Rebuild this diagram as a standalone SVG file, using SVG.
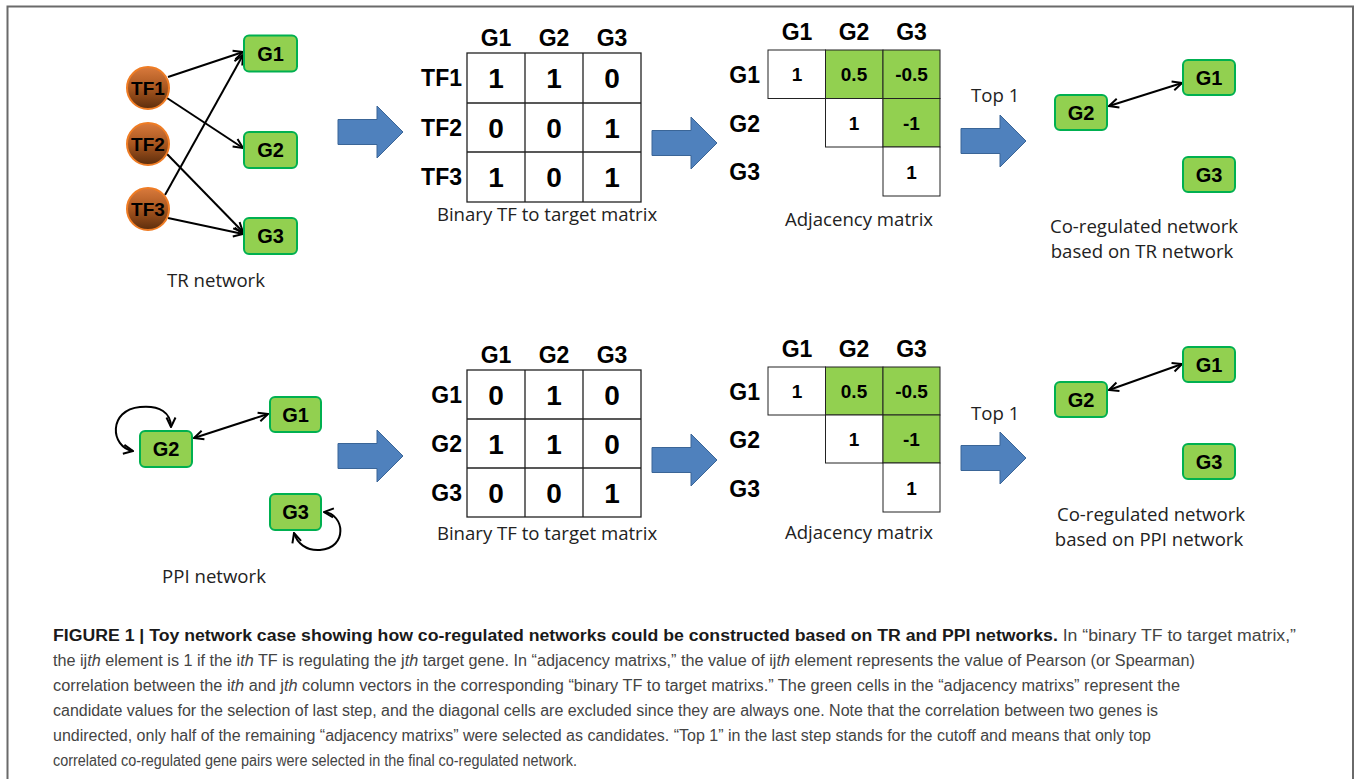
<svg xmlns="http://www.w3.org/2000/svg" width="1360" height="779" viewBox="0 0 1360 779">
<defs>
<style>
.lbl{font-family:"Open Sans","Liberation Sans",sans-serif;font-size:18.6px;fill:#222}
.b{font-family:"Liberation Sans",Arial,sans-serif;font-weight:bold;fill:#000}
.hd{font-size:23px}
.val{font-size:28px;text-anchor:middle}
.av{font-size:19px;text-anchor:middle}
.rl{text-anchor:end}
.ctr{text-anchor:middle}
.nd rect{fill:#92D050;stroke:#00B050;stroke-width:2}
.nd text{font-family:"Liberation Sans",Arial,sans-serif;font-weight:bold;font-size:20px;text-anchor:middle;fill:#000}
.tf circle{fill:url(#tfg);stroke:#EF7C24;stroke-width:2}
.tf text{font-family:"Liberation Sans",Arial,sans-serif;font-weight:bold;font-size:19px;text-anchor:middle;fill:#000}
.edge{stroke:#000;stroke-width:2;fill:none}
.blue{fill:#4F81BD;stroke:#3A6597;stroke-width:1}
.grid{fill:#fff;stroke:#222;stroke-width:1.3}
.gc{fill:#92D050;stroke:#222;stroke-width:1}
.wc{fill:#fff;stroke:#222;stroke-width:1}
.cap{font-family:"Liberation Sans",Arial,sans-serif;font-size:16px;fill:#444}
</style>
<linearGradient id="tfg" x1="0" y1="0" x2="0" y2="1">
<stop offset="0" stop-color="#D97A3C"/>
<stop offset="0.5" stop-color="#A8561F"/>
<stop offset="1" stop-color="#5C2D0C"/>
</linearGradient>
<marker id="ah" viewBox="0 0 12 12" refX="11" refY="6" markerWidth="12" markerHeight="12" orient="auto-start-reverse" markerUnits="userSpaceOnUse">
<path d="M1.5,1.5 L11,6 L1.5,10.5" fill="none" stroke="#000" stroke-width="2"/>
</marker>
<path id="barrow" d="M0,-12.5 H39 V-26 L65,0 L39,26 V12.5 H0 Z"/>
</defs>
<rect x="0" y="0" width="1360" height="779" fill="#fff"/>
<path d="M7.5,790 V6.5 H1353 V790" fill="none" stroke="#6a6a6a" stroke-width="2"/>

<!-- connectors -->
<g id="connectors">
<line class="edge" x1="168" y1="77" x2="243" y2="52" marker-end="url(#ah)"/>
<line class="edge" x1="167" y1="98" x2="243" y2="148" marker-end="url(#ah)"/>
<line class="edge" x1="167" y1="154" x2="243" y2="232" marker-end="url(#ah)"/>
<line class="edge" x1="165" y1="195" x2="243" y2="55" marker-end="url(#ah)"/>
<line class="edge" x1="168" y1="218" x2="243" y2="234" marker-end="url(#ah)"/>
<line class="edge" x1="1109" y1="106" x2="1182" y2="83" stroke-width="1.8" marker-start="url(#ah)" marker-end="url(#ah)"/>
<line class="edge" x1="1109" y1="390" x2="1182" y2="364" stroke-width="1.8" marker-start="url(#ah)" marker-end="url(#ah)"/>
<line class="edge" x1="194" y1="438" x2="268" y2="414" marker-start="url(#ah)" marker-end="url(#ah)"/>
<path class="edge" d="M133,451 C110,447 108,410 140,407 C160,405 171,413 171,427" marker-start="url(#ah)" marker-end="url(#ah)"/>
<path class="edge" d="M324,512 C345,514 348,548 320,550 C306,551 297,543 294,533" marker-start="url(#ah)" marker-end="url(#ah)"/>
<use href="#barrow" class="blue" transform="translate(338,132)"/>
<use href="#barrow" class="blue" transform="translate(652,143)"/>
<use href="#barrow" class="blue" transform="translate(961,141)"/>
<use href="#barrow" class="blue" transform="translate(338,456)"/>
<use href="#barrow" class="blue" transform="translate(652,460)"/>
<use href="#barrow" class="blue" transform="translate(961,458)"/>
</g>

<!-- TR network -->
<g id="tf1" class="tf"><circle cx="148" cy="88" r="21"/><text x="148" y="95">TF1</text></g>
<g id="tf2" class="tf"><circle cx="148" cy="144" r="21"/><text x="148" y="151">TF2</text></g>
<g id="tf3" class="tf"><circle cx="148" cy="209" r="21"/><text x="148" y="216">TF3</text></g>
<g id="tr-g1" class="nd"><rect x="244" y="35.5" width="53" height="36" rx="5"/><text x="270.5" y="60.5">G1</text></g>
<g id="tr-g2" class="nd"><rect x="244" y="132" width="53" height="36" rx="5"/><text x="270.5" y="157">G2</text></g>
<g id="tr-g3" class="nd"><rect x="244" y="218" width="53" height="36" rx="5"/><text x="270.5" y="243">G3</text></g>
<text class="lbl ctr" x="216" y="287">TR network</text>

<!-- Binary matrix top -->
<g id="bin-top">
<rect class="grid" x="467" y="53" width="174" height="149"/>
<path d="M525,53 V202 M583,53 V202 M467,103 H641 M467,152 H641" stroke="#222" stroke-width="1.3"/>
<text class="b hd ctr" x="496" y="46">G1</text><text class="b hd ctr" x="554" y="46">G2</text><text class="b hd ctr" x="612" y="46">G3</text>
<text class="b hd rl" x="462" y="86">TF1</text><text class="b hd rl" x="462" y="136">TF2</text><text class="b hd rl" x="462" y="185">TF3</text>
<text class="b val" x="496" y="88">1</text><text class="b val" x="554" y="88">1</text><text class="b val" x="612" y="88">0</text>
<text class="b val" x="496" y="138">0</text><text class="b val" x="554" y="138">0</text><text class="b val" x="612" y="138">1</text>
<text class="b val" x="496" y="187">1</text><text class="b val" x="554" y="187">0</text><text class="b val" x="612" y="187">1</text>
<text class="lbl ctr" x="547" y="221">Binary TF to target matrix</text>
</g>

<!-- Adjacency top -->
<g id="adj-top">
<rect class="wc" x="768" y="50" width="57.5" height="48.5"/>
<rect class="gc" x="825.5" y="50" width="57.5" height="48.5"/>
<rect class="gc" x="883" y="50" width="57" height="48.5"/>
<rect class="wc" x="825.5" y="98.5" width="57.5" height="48.5"/>
<rect class="gc" x="883" y="98.5" width="57" height="48.5"/>
<rect class="wc" x="883" y="147" width="57" height="49"/>
<text class="b hd ctr" x="797" y="40">G1</text><text class="b hd ctr" x="854" y="40">G2</text><text class="b hd ctr" x="911.5" y="40">G3</text>
<text class="b hd rl" x="760" y="83">G1</text><text class="b hd rl" x="760" y="132">G2</text><text class="b hd rl" x="760" y="180">G3</text>
<text class="b av" x="797" y="81">1</text><text class="b av" x="854" y="81">0.5</text><text class="b av" x="911.5" y="81">-0.5</text>
<text class="b av" x="854" y="130">1</text><text class="b av" x="911.5" y="130">-1</text>
<text class="b av" x="911.5" y="178.5">1</text>
<text class="lbl ctr" x="859" y="226">Adjacency matrix</text>
</g>
<text class="lbl" x="971" y="102">Top 1</text>

<!-- Co-regulated top -->
<g id="co-top-g1" class="nd"><rect x="1183" y="60" width="52" height="35" rx="5"/><text x="1209" y="84.5">G1</text></g>
<g id="co-top-g2" class="nd"><rect x="1055" y="95" width="52" height="35" rx="5"/><text x="1081" y="119.5">G2</text></g>
<g id="co-top-g3" class="nd"><rect x="1183" y="157" width="52" height="35" rx="5"/><text x="1209" y="181.5">G3</text></g>
<text class="lbl ctr" x="1144" y="233">Co-regulated network</text>
<text class="lbl ctr" x="1142" y="258">based on TR network</text>

<!-- PPI network -->
<g id="ppi-g1" class="nd"><rect x="270" y="397" width="51" height="35" rx="5"/><text x="295.5" y="421.5">G1</text></g>
<g id="ppi-g2" class="nd"><rect x="140" y="431" width="52" height="36" rx="5"/><text x="166" y="456">G2</text></g>
<g id="ppi-g3" class="nd"><rect x="270" y="494" width="51" height="36" rx="5"/><text x="295.5" y="519">G3</text></g>
<text class="lbl ctr" x="214" y="583">PPI network</text>

<!-- Binary matrix bottom -->
<g id="bin-bot">
<rect class="grid" x="467" y="370" width="174" height="147"/>
<path d="M525,370 V517 M583,370 V517 M467,419 H641 M467,468 H641" stroke="#222" stroke-width="1.3"/>
<text class="b hd ctr" x="496" y="363">G1</text><text class="b hd ctr" x="554" y="363">G2</text><text class="b hd ctr" x="612" y="363">G3</text>
<text class="b hd rl" x="462" y="403">G1</text><text class="b hd rl" x="462" y="452">G2</text><text class="b hd rl" x="462" y="501">G3</text>
<text class="b val" x="496" y="404.5">0</text><text class="b val" x="554" y="404.5">1</text><text class="b val" x="612" y="404.5">0</text>
<text class="b val" x="496" y="453.5">1</text><text class="b val" x="554" y="453.5">1</text><text class="b val" x="612" y="453.5">0</text>
<text class="b val" x="496" y="502.5">0</text><text class="b val" x="554" y="502.5">0</text><text class="b val" x="612" y="502.5">1</text>
<text class="lbl ctr" x="547" y="540">Binary TF to target matrix</text>
</g>

<!-- Adjacency bottom -->
<g id="adj-bot">
<rect class="wc" x="768" y="367" width="57.5" height="48"/>
<rect class="gc" x="825.5" y="367" width="57.5" height="48"/>
<rect class="gc" x="883" y="367" width="57" height="48"/>
<rect class="wc" x="825.5" y="415" width="57.5" height="48"/>
<rect class="gc" x="883" y="415" width="57" height="48"/>
<rect class="wc" x="883" y="463" width="57" height="49"/>
<text class="b hd ctr" x="797" y="357">G1</text><text class="b hd ctr" x="854" y="357">G2</text><text class="b hd ctr" x="911.5" y="357">G3</text>
<text class="b hd rl" x="760" y="400">G1</text><text class="b hd rl" x="760" y="448">G2</text><text class="b hd rl" x="760" y="496.5">G3</text>
<text class="b av" x="797" y="398">1</text><text class="b av" x="854" y="398">0.5</text><text class="b av" x="911.5" y="398">-0.5</text>
<text class="b av" x="854" y="446">1</text><text class="b av" x="911.5" y="446">-1</text>
<text class="b av" x="911.5" y="494.5">1</text>
<text class="lbl ctr" x="859" y="539">Adjacency matrix</text>
</g>
<text class="lbl" x="971" y="420">Top 1</text>

<!-- Co-regulated bottom -->
<g id="co-bot-g1" class="nd"><rect x="1183" y="347" width="52" height="35" rx="5"/><text x="1209" y="371.5">G1</text></g>
<g id="co-bot-g2" class="nd"><rect x="1055" y="382" width="52" height="35" rx="5"/><text x="1081" y="406.5">G2</text></g>
<g id="co-bot-g3" class="nd"><rect x="1183" y="444" width="52" height="35" rx="5"/><text x="1209" y="468.5">G3</text></g>
<text class="lbl ctr" x="1151" y="521">Co-regulated network</text>
<text class="lbl ctr" x="1149" y="546">based on PPI network</text>

<!-- Figure caption -->
<g id="caption" class="cap">
<text x="53" y="641" textLength="1243" lengthAdjust="spacingAndGlyphs"><tspan font-weight="bold" fill="#1a1a1a">FIGURE 1 | Toy network case showing how co-regulated networks could be constructed based on TR and PPI networks.</tspan> In “binary TF to target matrix,”</text>
<text x="53" y="666" textLength="1142" lengthAdjust="spacingAndGlyphs">the ij<tspan font-style="italic">th</tspan> element is 1 if the i<tspan font-style="italic">th</tspan> TF is regulating the j<tspan font-style="italic">th</tspan> target gene. In “adjacency matrixs,” the value of ij<tspan font-style="italic">th</tspan> element represents the value of Pearson (or Spearman)</text>
<text x="53" y="691" textLength="1127" lengthAdjust="spacingAndGlyphs">correlation between the i<tspan font-style="italic">th</tspan> and j<tspan font-style="italic">th</tspan> column vectors in the corresponding “binary TF to target matrixs.” The green cells in the “adjacency matrixs” represent the</text>
<text x="53" y="716" textLength="1105" lengthAdjust="spacingAndGlyphs">candidate values for the selection of last step, and the diagonal cells are excluded since they are always one. Note that the correlation between two genes is</text>
<text x="53" y="741" textLength="1098" lengthAdjust="spacingAndGlyphs">undirected, only half of the remaining “adjacency matrixs” were selected as candidates. “Top 1” in the last step stands for the cutoff and means that only top</text>
<text x="53" y="766" textLength="524" lengthAdjust="spacingAndGlyphs">correlated co-regulated gene pairs were selected in the final co-regulated network.</text>
</g>
</svg>
